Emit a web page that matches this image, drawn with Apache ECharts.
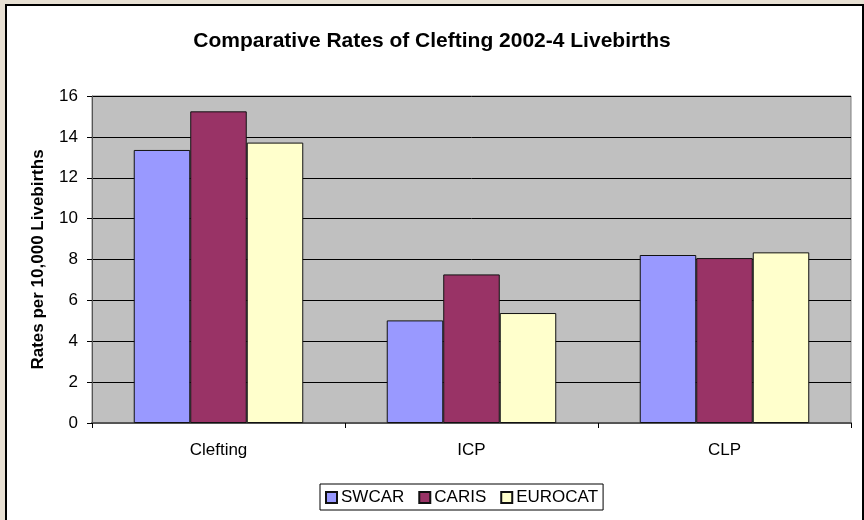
<!DOCTYPE html>
<html>
<head>
<meta charset="utf-8">
<script src="https://cdn.jsdelivr.net/npm/echarts@6/dist/echarts.min.js"></script>
<style>
html,body{margin:0;padding:0;width:864px;height:520px;overflow:hidden;background:#e8e0d3;}
#frame{position:absolute;left:5px;top:4px;width:855px;height:530px;border:2px solid #000;background:#fff;}
#chart{position:absolute;left:0;top:0;width:864px;height:520px;}
</style>
</head>
<body>
<div id="frame"></div>
<div id="chart"></div>
<script>
const categories = ["Clefting", "ICP", "CLP"];
const swcar = [13.36, 5.02, 8.22];
const caris = [15.25, 7.27, 8.07];
const eurocat = [13.72, 5.38, 8.35];
const yTicks = [0, 2, 4, 6, 8, 10, 12, 14, 16];

const chart = echarts.init(document.getElementById('chart'), null, {renderer: 'canvas'});
const font = 'Liberation Sans, Arial, sans-serif';
const barStyle = c => ({color: c, borderColor: '#111', borderWidth: 1});
chart.setOption({
  backgroundColor: 'transparent',
  animation: false,
  title: {
    text: 'Comparative Rates of Clefting 2002-4 Livebirths',
    left: 'center', top: 26,
    textStyle: {fontFamily: font, fontSize: 21, fontWeight: 'bold', color: '#000'}
  },
  legend: {
    bottom: 10, left: 320,
    data: ['SWCAR', 'CARIS', 'EUROCAT'],
    icon: 'rect', itemWidth: 11, itemHeight: 11, itemGap: 14,
    borderColor: '#000', borderWidth: 1, backgroundColor: '#fff',
    padding: [5, 5, 4, 5],
    textStyle: {fontFamily: font, fontSize: 17, color: '#000', padding: [0, 0, 0, -1]}
  },
  grid: {left: 92, right: 13, top: 96, bottom: 97, show: true, backgroundColor: '#c0c0c0', borderColor: '#808080', borderWidth: 1},
  xAxis: {
    type: 'category', data: categories,
    axisLine: {lineStyle: {color: '#555', width: 2}},
    axisTick: {show: true, length: 5, lineStyle: {color: '#000'}},
    axisLabel: {fontFamily: font, fontSize: 17, color: '#000', margin: 19}
  },
  yAxis: {
    type: 'value', min: yTicks[0], max: yTicks[yTicks.length - 1], interval: 2,
    name: 'Rates per 10,000 Livebirths', nameLocation: 'middle', nameGap: 45,
    nameTextStyle: {fontFamily: font, fontSize: 17, fontWeight: 'bold', color: '#000'},
    axisLine: {show: true, lineStyle: {color: '#555', width: 1}},
    axisTick: {show: true, length: 5, lineStyle: {color: '#000'}},
    axisLabel: {fontFamily: font, fontSize: 17, color: '#000', margin: 14},
    splitLine: {lineStyle: {color: '#000', width: 1}}
  },
  series: [
    {name: 'SWCAR', type: 'bar', data: swcar, itemStyle: barStyle('#9999ff'), barGap: '0%', barCategoryGap: '33%'},
    {name: 'CARIS', type: 'bar', data: caris, itemStyle: barStyle('#993366')},
    {name: 'EUROCAT', type: 'bar', data: eurocat, itemStyle: barStyle('#ffffcc')}
  ]
});
</script>
</body>
</html>
